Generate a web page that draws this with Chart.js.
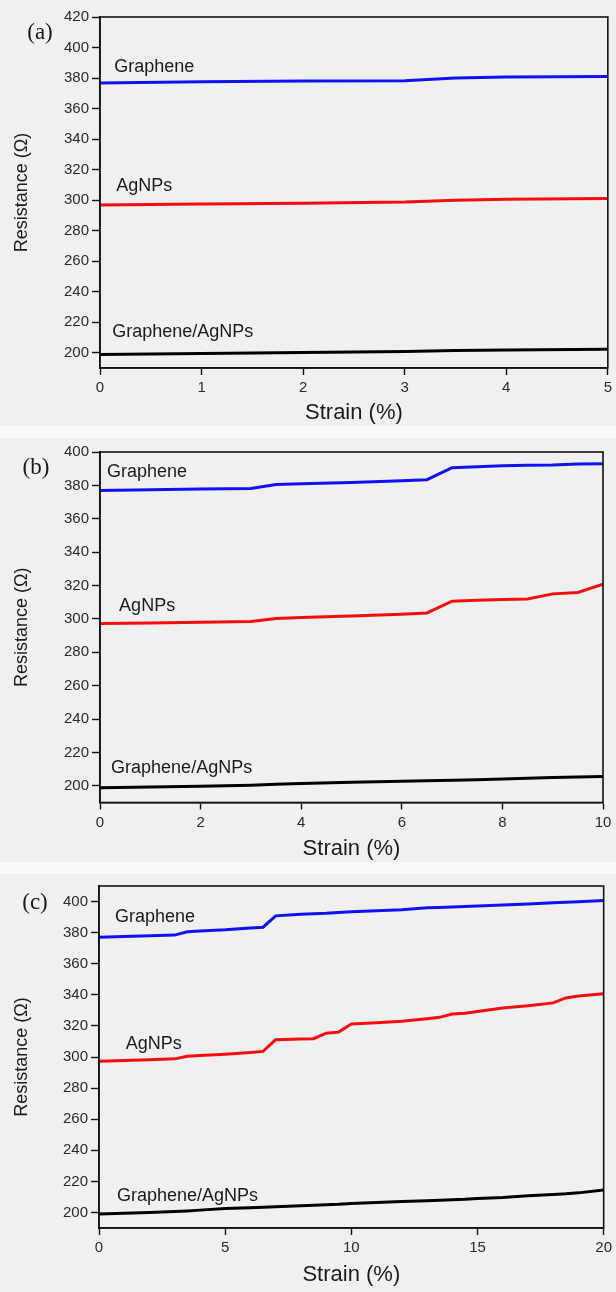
<!DOCTYPE html>
<html>
<head>
<meta charset="utf-8">
<script src="https://cdn.jsdelivr.net/npm/chart.js@4.4.1/dist/chart.umd.min.js"></script>
<style>
  html, body { margin: 0; padding: 0; background: #f9f9f9; }
  .panel { position: absolute; left: 0; width: 616px; background: #f0f0f0; }
  #pa { top: 0; height: 426px; }
  #pb { top: 438px; height: 424px; }
  #pc { top: 874px; height: 418px; }
</style>
</head>
<body>
<div class="panel" id="pa"><canvas id="chartA" width="616" height="426"></canvas></div>
<div class="panel" id="pb"><canvas id="chartB" width="616" height="424"></canvas></div>
<div class="panel" id="pc"><canvas id="chartC" width="616" height="418"></canvas></div>
<script>
// (a) strain 0-5 %
const strainA = [0, 1, 2, 3, 3.5, 4, 5];
const grapheneA = [376.8, 377.5, 378, 378.3, 380, 380.7, 381];
const agnpsA = [296.8, 297.5, 298, 298.8, 300, 300.5, 301];
const hybridA = [198.8, 199.5, 200.2, 200.8, 201.5, 201.8, 202.3];
const xTicksA = [0, 1, 2, 3, 4, 5];
const yTicksA = [200, 220, 240, 260, 280, 300, 320, 340, 360, 380, 400, 420];

// (b) strain 0-10 %
const strainB = [0, 1, 2, 3, 3.5, 4, 5, 6, 6.5, 7, 7.5, 8, 8.5, 9, 9.5, 10];
const grapheneB = [377, 377.4, 377.8, 378.1, 380.5, 381, 381.8, 382.8, 383.4, 390.6, 391.2, 391.8, 392, 392.2, 392.8, 393];
const agnpsB = [297.2, 297.6, 298, 298.5, 300.3, 300.8, 301.8, 302.8, 303.6, 310.6, 311.2, 311.6, 311.9, 315, 315.8, 320.8];
const hybridB = [198.8, 199.3, 199.8, 200.4, 200.9, 201.4, 202.1, 202.7, 203, 203.4, 203.7, 204.1, 204.6, 205, 205.3, 205.6];
const xTicksB = [0, 2, 4, 6, 8, 10];
const yTicksB = [200, 220, 240, 260, 280, 300, 320, 340, 360, 380, 400];

// (c) strain 0-20 %
const strainC = [0, 1, 2, 3, 3.5, 4, 5, 6, 6.5, 7, 8, 8.5, 9, 9.5, 10, 11, 12, 13, 13.5, 14, 14.5, 15, 16, 17, 18, 18.5, 19, 20];
const grapheneC = [377.1, 377.5, 378, 378.4, 380.5, 381, 381.8, 383, 383.5, 390.8, 391.8, 392.2, 392.4, 393, 393.5, 394, 394.7, 396, 396.2, 396.5, 396.8, 397.2, 397.8, 398.4, 399.2, 399.5, 399.8, 400.6];
const agnpsC = [297.3, 297.8, 298.3, 298.8, 300.5, 301, 301.8, 302.9, 303.6, 311.1, 311.5, 311.8, 315.3, 316, 321.2, 322, 323, 324.6, 325.5, 327.7, 328.2, 329.3, 331.5, 333, 334.8, 338, 339.2, 340.7];
const hybridC = [199, 199.5, 200, 200.6, 201, 201.5, 202.5, 203, 203.3, 203.6, 204.3, 204.7, 205, 205.3, 205.8, 206.4, 207, 207.6, 207.9, 208.2, 208.5, 209, 209.6, 210.8, 211.6, 212, 212.6, 214.5];
const yTicksC = [200, 220, 240, 260, 280, 300, 320, 340, 360, 380, 400];
const xTicksC = [0, 5, 10, 15, 20];

const seriesNames = ["Graphene", "AgNPs", "Graphene/AgNPs"];
const seriesColors = ["#0d12f5", "#f50d0d", "#000000"];

const SANS = 'Arial, "Liberation Sans", sans-serif';

// frame box, panel letter and in-plot series labels
const panelDecor = {
    id: "panelDecor",
    afterDraw(chart, args, o) {
        const { ctx, chartArea: a, scales } = chart;
        ctx.save();
        ctx.strokeStyle = "#111";
        ctx.lineWidth = 1.6;
        ctx.strokeRect(a.left, a.top, a.right - a.left, a.bottom - a.top);

        ctx.fillStyle = "#1a1a1a";
        ctx.font = "18px " + SANS;
        ctx.textBaseline = "middle";
        ctx.textAlign = "left";
        o.labels.forEach((l, i) => {
            ctx.fillText(seriesNames[i], scales.x.getPixelForValue(l[0]), scales.y.getPixelForValue(l[1]));
        });

        ctx.font = '23px "Liberation Serif", "Times New Roman", serif';
        ctx.textAlign = "center";
        ctx.fillText(o.tag, o.tagPos[0], o.tagPos[1]);
        ctx.restore();
    }
};

function makePanel(id, p) {
    const sets = [p.g, p.ag, p.hy].map((vals, i) => ({
        label: seriesNames[i],
        data: p.strain.map((x, k) => ({ x: x, y: vals[k] })),
        borderColor: seriesColors[i],
        borderWidth: 3,
        pointRadius: 0,
        tension: 0
    }));

    return new Chart(document.getElementById(id), {
        type: "line",
        data: { datasets: sets },
        options: {
            responsive: false,
            animation: false,
            layout: { padding: { top: p.padTop, right: p.padRight, left: 0, bottom: 0 } },
            plugins: {
                legend: { display: false },
                tooltip: { enabled: false },
                panelDecor: { labels: p.labels, tag: p.tag, tagPos: p.tagPos }
            },
            scales: {
                x: {
                    type: "linear",
                    min: p.xTicks[0],
                    max: p.xTicks[p.xTicks.length - 1],
                    afterBuildTicks: s => { s.ticks = p.xTicks.map(v => ({ value: v })); },
                    afterFit: s => { s.height = p.xAxisH; },
                    border: { color: "#111", width: 1.6 },
                    grid: { drawOnChartArea: false, tickLength: 7, color: "#111", tickWidth: 1.4 },
                    ticks: { color: "#2a2a2a", padding: 4, font: { family: SANS, size: 15 } },
                    title: {
                        display: true,
                        text: "Strain (%)",
                        color: "#1a1a1a",
                        font: { family: SANS, size: 22 },
                        padding: { top: 0, bottom: p.xTitlePad }
                    }
                },
                y: {
                    min: 190,
                    max: p.yMax,
                    afterBuildTicks: s => { s.ticks = p.yTicks.map(v => ({ value: v })); },
                    afterFit: s => { s.width = p.yAxisW; },
                    border: { color: "#111", width: 1.6 },
                    grid: { drawOnChartArea: false, tickLength: 8, color: "#111", tickWidth: 1.4 },
                    ticks: { color: "#2a2a2a", padding: 3, font: { family: SANS, size: 15 } },
                    title: {
                        display: true,
                        text: "Resistance (Ω)",
                        color: "#1a1a1a",
                        font: { family: SANS, size: 18 },
                        padding: { top: 11, bottom: 0 }
                    }
                }
            }
        },
        plugins: [panelDecor]
    });
}

makePanel("chartA", {
    strain: strainA, g: grapheneA, ag: agnpsA, hy: hybridA,
    xTicks: xTicksA, yTicks: yTicksA, yMax: 420,
    padTop: 17, padRight: 5, yAxisW: 100, xAxisH: 58, xTitlePad: 0,
    labels: [[0.14, 387.5], [0.16, 309], [0.12, 213.8]],
    tag: "(a)", tagPos: [40, 33]
});

makePanel("chartB", {
    strain: strainB, g: grapheneB, ag: agnpsB, hy: hybridB,
    xTicks: xTicksB, yTicks: yTicksB, yMax: 400,
    padTop: 14, padRight: 13, yAxisW: 100, xAxisH: 59.5, xTitlePad: 0,
    labels: [[0.14, 388], [0.38, 308], [0.22, 210.5]],
    tag: "(b)", tagPos: [36, 30]
});

makePanel("chartC", {
    strain: strainC, g: grapheneC, ag: agnpsC, hy: hybridC,
    xTicks: xTicksC, yTicks: yTicksC, yMax: 410,
    padTop: 12, padRight: 9, yAxisW: 99, xAxisH: 64, xTitlePad: 4,
    labels: [[0.63, 390], [1.06, 308.4], [0.71, 210.7]],
    tag: "(c)", tagPos: [35, 29]
});
</script>
</body>
</html>
